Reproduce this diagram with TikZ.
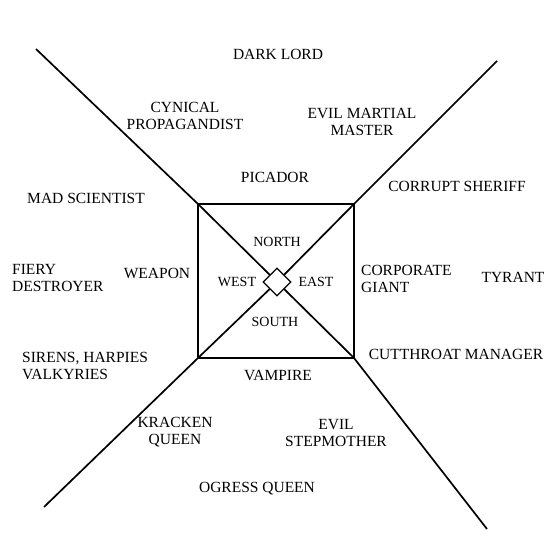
\documentclass[tikz,border=0pt]{standalone}
\usepackage{fontspec}
\setmainfont{Liberation Serif}
\usetikzlibrary{shapes.geometric}
\begin{document}
\begin{tikzpicture}[x=1pt,y=-1pt,
  lbl/.style={inner sep=0pt,anchor=north,align=center,font=\fontsize{15.5}{17}\selectfont},
  lbll/.style={inner sep=0pt,anchor=north west,align=left,font=\fontsize{15.5}{17}\selectfont},
  dir/.style={inner sep=0pt,anchor=north,font=\fontsize{14}{16}\selectfont},
  axis/.style={line width=1.7pt},
  frame/.style={line width=1.3pt},
  hub/.style={diamond,draw,fill=white,line width=1.2pt,minimum width=28pt,minimum height=28pt,inner sep=0pt}]
\useasboundingbox (0,0) rectangle (560,560);
% ends and corners
\coordinate (e1) at (36,49);
\coordinate (e2) at (497,61);
\coordinate (e3) at (44,507);
\coordinate (e4) at (487,529);
\coordinate (cnw) at (198,204);
\coordinate (cne) at (354,204);
\coordinate (csw) at (198,358);
\coordinate (cse) at (354,358);
\node[hub] (hub) at (277,282) {};
\draw[axis] (e1) -- (cnw);
\draw[axis] (e2) -- (cne);
\draw[axis] (e3) -- (csw);
\draw[axis] (e4) -- (cse);
\draw[axis] (cnw) -- (hub);
\draw[axis] (cne) -- (hub);
\draw[axis] (csw) -- (hub);
\draw[axis] (cse) -- (hub);
\draw[frame] (cnw) rectangle (cse);
% labels
\node[lbl] (darklord) at (278,49) {DARK LORD};
\node[lbl] (cynical) at (185,102) {CYNICAL\\PROPAGANDIST};
\node[lbl] (martial) at (362,108) {EVIL MARTIAL\\MASTER};
\node[lbl] (picador) at (275,172) {PICADOR};
\node[lbl] (mad) at (86,193) {MAD SCIENTIST};
\node[lbl] (sheriff) at (457,181) {CORRUPT SHERIFF};
\node[lbll] (fiery) at (12,264) {FIERY\\DESTROYER};
\node[lbl] (weapon) at (157,268) {WEAPON};
\node[lbll] (corp) at (361,265) {CORPORATE\\GIANT};
\node[lbl] (tyrant) at (513,272) {TYRANT};
\node[lbll] (sirens) at (22,352) {SIRENS, HARPIES\\VALKYRIES};
\node[lbl] (cutthroat) at (456,349) {CUTTHROAT MANAGER};
\node[lbl] (vampire) at (278,370) {VAMPIRE};
\node[lbl] (kracken) at (175,417) {KRACKEN\\QUEEN};
\node[lbl] (stepmother) at (336,419) {EVIL\\STEPMOTHER};
\node[lbl] (ogress) at (257,482) {OGRESS QUEEN};
\node[dir] (north) at (277,237) {NORTH};
\node[dir] (south) at (275,317) {SOUTH};
\node[dir] (west) at (237,277) {WEST};
\node[dir] (east) at (316,277) {EAST};
\end{tikzpicture}
\end{document}
